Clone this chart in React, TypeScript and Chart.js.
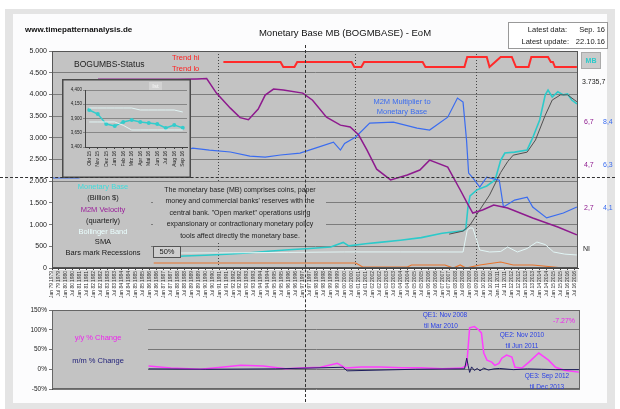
import React, { useEffect, useRef } from 'react';
import { Chart, registerables } from 'chart.js';

Chart.register(...registerables);

const FONT = '"Liberation Sans", Arial, sans-serif';
Chart.defaults.font.family = FONT;

const X_MIN = 1979;
const X_MAX = 2016.75;

// ---- Monetary base (billion $) ----
const mbYears = [1987.6, 1988.5, 1990, 1991.5, 1993, 1994.5, 1996, 1997.5, 1999, 1999.9, 2000.3, 2001.5, 2002.5, 2004, 2005.5, 2007, 2008.5, 2008.7, 2008.85, 2009.0, 2009.5, 2010.2, 2010.8, 2011.2, 2011.5, 2012.2, 2013.1, 2013.5, 2014.0, 2014.4, 2014.6, 2014.9, 2015.3, 2015.7, 2016.0, 2016.3, 2016.67];
const mbVals = [260, 276, 295, 318, 346, 385, 420, 450, 484, 590, 510, 560, 590, 640, 700, 800, 860, 900, 1400, 1660, 1800, 1890, 2030, 2480, 2650, 2670, 2720, 3000, 3410, 3990, 4100, 3940, 4060, 3990, 4010, 3870, 3780];

// ---- SMA ----
const smaYears = [2007.5, 2008.5, 2009.0, 2009.7, 2010.4, 2011.2, 2011.7, 2012.1, 2013.1, 2013.7, 2014.4, 2014.9, 2015.5, 2016.0, 2016.67];
const smaVals = [780, 850, 990, 1340, 1680, 2200, 2450, 2600, 2670, 2950, 3520, 3870, 3990, 3990, 3830];

// ---- Bollinger band width ----
const bbYears = [1988, 1992, 1996, 2000, 2004, 2008.5, 2008.8, 2009.0, 2009.2, 2009.7, 2010.4, 2011.2, 2011.7, 2012.4, 2013.1, 2013.8, 2014.4, 2015.0, 2015.8, 2016.67];
const bbVals = [345, 350, 360, 370, 370, 369, 875, 922, 922, 415, 369, 380, 484, 369, 450, 599, 540, 369, 320, 300];

// ---- Orange indicator ----
const orYears = [1986.3, 2000.8, 2001.3, 2004.5, 2004.8, 2007.2, 2007.8, 2008.3, 2008.7, 2009.7, 2011.2, 2012.1, 2013.5, 2015.0, 2015.7, 2016.67];
const orVals = [115, 115, 23, 23, 69, 69, 0, 69, 0, 69, 138, 69, 69, 23, 0, 0];

// ---- Trend hi / lo ----
const trYears = [1991.3, 1995.4, 1995.6, 1996.4, 1996.6, 2000.5, 2000.7, 2001.2, 2001.4, 2005.6, 2005.8, 2008.6, 2008.8, 2010.2, 2010.4, 2010.8, 2011.2, 2012.0, 2012.3, 2013.2, 2013.4, 2014.6, 2014.8, 2014.95, 2015.1, 2016.67];
const trVals = [4746, 4746, 4631, 4631, 4746, 4746, 4631, 4631, 4746, 4746, 4631, 4631, 4862, 4862, 4631, 4746, 4862, 4862, 4631, 4631, 4862, 4862, 4746, 4746, 4631, 4631];

// ---- M2M velocity (right scale) ----
const velYears = [1982.3, 1985, 1988, 1989.4, 1990.1, 1990.8, 1991.8, 1992.5, 1993.1, 1993.8, 1994.3, 1994.9, 1995.6, 1997.0, 1997.7, 1998.7, 1999.7, 2000.4, 2001.0, 2001.6, 2002.3, 2003.3, 2004.5, 2005.4, 2006.1, 2007.4, 2008.3, 2008.8, 2009.2, 2009.9, 2010.7, 2011.7, 2013.5, 2015.3, 2016.67];
const velVals = [8.68, 8.68, 8.68, 8.7, 8.72, 8.04, 7.34, 6.9, 6.8, 7.3, 7.95, 8.23, 8.18, 8.04, 7.71, 6.92, 6.55, 6.46, 6.1, 5.4, 4.5, 4.0, 4.23, 4.46, 4.92, 4.6, 3.53, 2.92, 2.46, 2.6, 2.83, 2.69, 2.23, 1.81, 1.44];

// ---- M2M multiplier (right scale) ----
const mulYears = [1979.0, 1980.9, 1984, 1987, 1989.1, 1990.3, 1991.8, 1993.2, 1994.3, 1995.4, 1996.8, 1997.9, 1999.2, 1999.7, 2000.0, 2000.8, 2001.8, 2003.5, 2005.2, 2006.1, 2007.4, 2008.1, 2008.5, 2008.75, 2008.9, 2009.2, 2009.7, 2010.2, 2011.1, 2011.4, 2012.2, 2013.1, 2013.5, 2014.5, 2015.7, 2016.67];
const mulVals = [4.09, 4.09, 4.6, 5.1, 5.48, 5.39, 5.3, 5.11, 5.06, 5.16, 5.25, 5.48, 5.76, 5.39, 5.7, 6.0, 6.64, 6.69, 6.41, 6.32, 6.92, 7.81, 7.62, 5.85, 4.32, 4.09, 3.67, 4.13, 3.99, 2.74, 3.06, 3.2, 2.74, 2.23, 2.46, 2.74];

const rightTickVals = [2.7, 4.7, 6.7];
const mulTickLabels = ['4,1', '6,3', '8,4'];
const recessionYears = [1990.9, 2000.75, 2009.4];

// ---- lower chart: % change ----
const yyYears = [1985.9, 1987.5, 1989.6, 1991.1, 1992.5, 1994.1, 1995.7, 1996.8, 1998.2, 1999.4, 2000.0, 2001.1, 2002.5, 2004.0, 2005.4, 2006.9, 2008.3, 2008.65, 2008.86, 2009.2, 2009.5, 2009.7, 2009.87, 2010.1, 2010.44, 2010.66, 2010.95, 2011.16, 2011.5, 2011.88, 2012.1, 2012.6, 2013.1, 2013.8, 2014.5, 2015.0, 2015.7, 2016.67];
const yyVals = [8, 3, 0, 5, 10, 8, 1, 3, 5, 15, 3, 6, 6, 4, 4, 1, 3, 10, 105, 108, 100, 92, 41, 23, 18, 10, 15, 28, 36, 31, 5, 3, 18, 41, 23, 5, -3, -7.27];
const mmYears = [1985.9, 1990, 1995, 1999.8, 2000.1, 2005, 2008.5, 2008.65, 2008.75, 2008.86, 2009.0, 2009.2, 2009.4, 2009.6, 2009.87, 2010.2, 2010.6, 2011, 2012, 2013, 2014, 2015, 2016.67];
const mmVals = [1, 0, 1, 5, -4, 0, 1, 28, 10, -8, 6, -3, 2, -4, 3, -2, 1, 2, -1, 1, 0, -1, -1];

// ---- inset: last 12 months ----
const insetLabels = ['Okt 15', 'Nov 15', 'Dez 15', 'Jan 16', 'Feb 16', 'Mrz 16', 'Apr 16', 'Mai 16', 'Jun 16', 'Jul 16', 'Aug 16', 'Sep 16'];
const insetVals = [4049, 3979, 3804, 3768, 3839, 3874, 3839, 3821, 3804, 3733, 3786, 3736];
const insetUpper = [4084, 4084, 4084, 4084, 4084, 4084, 4049, 4049, 4049, 4049, 4049, 4014];
const insetLower = [3839, 3839, 3839, 3839, 3780, 3698, 3698, 3698, 3698, 3698, 3698, 3698];

// ---- x tick labels (half-yearly) ----
const tickYears: number[] = [];
for (let y = 1979; y <= 2016.5; y += 0.5) tickYears.push(y);
const tickMonths = ['Jan', 'Jul'];

const legendLines: [string, string][] = [
  ['Monetary Base', '#3edcdc'],
  ['(Billion $)', '#1a1a1a'],
  ['M2M Velocity', '#9a1f9a'],
  ['(quarterly)', '#1a1a1a'],
  ['Bollinger Band', '#eaffff'],
  ['SMA', '#1a1a1a'],
  ['Bars mark Recessions', '#1a1a1a'],
];
const descLines = [
  'The monetary base (MB) comprises coins, paper',
  "money and commercial banks' reserves with the",
  'central bank. "Open market" operations using',
  'expansionary or contractionary monetary policy',
  'tools affect directly the monetary base.',
];

const xy = (xs: number[], ys: number[]) => xs.map((x, i) => ({ x, y: ys[i] }));

function txt(ctx: CanvasRenderingContext2D, s: string, x: number, y: number, color = '#1a1a1a', size = 7, align: CanvasTextAlign = 'left', weight = 'normal') {
  ctx.font = `${weight} ${size}px ${FONT}`;
  ctx.fillStyle = color;
  ctx.textAlign = align;
  ctx.textBaseline = 'middle';
  ctx.fillText(s, x, y);
}

const PLOT_BG = '#c3c3c3';

const fmtDot = (v: number) => {
  if (v >= 1000) return `${Math.floor(v / 1000)}.${String(v % 1000).padStart(3, '0')}`;
  return String(v);
};

const mainPlugin = {
  id: 'mainDecor',
  beforeDraw(chart: any) {
    const { ctx, chartArea: a } = chart;
    ctx.save();
    ctx.fillStyle = PLOT_BG;
    ctx.fillRect(a.left, a.top, a.right - a.left, a.bottom - a.top);
    ctx.fillStyle = '#d9d9d9';
    ctx.fillRect(a.left, a.bottom + 2, a.right - a.left, 12);
    ctx.restore();
  },
  beforeDatasetsDraw(chart: any) {
    const { ctx, chartArea: a } = chart;
    const xs = chart.scales.x;
    ctx.save();
    ctx.strokeStyle = '#444';
    ctx.lineWidth = 1;
    ctx.setLineDash([1, 2]);
    recessionYears.forEach((r) => {
      const px = Math.round(xs.getPixelForValue(r)) + 0.5;
      ctx.beginPath();
      ctx.moveTo(px, a.top);
      ctx.lineTo(px, a.bottom);
      ctx.stroke();
    });
    ctx.setLineDash([]);
    ctx.fillStyle = PLOT_BG;
    ctx.fillRect(a.left + 1, 183, 98, 76);
    ctx.fillRect(153, 183, 173, 60);
    ctx.restore();
  },
  afterDraw(chart: any) {
    const { ctx, chartArea: a } = chart;
    ctx.save();
    ctx.strokeStyle = '#555';
    ctx.lineWidth = 1;
    ctx.strokeRect(a.left + 0.5, a.top + 0.5, a.right - a.left - 1, a.bottom - a.top - 1);

    txt(ctx, 'www.timepatternanalysis.de', 25, 30, '#111', 8, 'left', 'bold');
    txt(ctx, 'Monetary Base MB (BOGMBASE) - EoM', 345, 33, '#111', 9.5, 'center');

    ctx.fillStyle = '#ffffff';
    ctx.fillRect(508.5, 22.5, 99, 26);
    ctx.strokeStyle = '#999';
    ctx.strokeRect(508.5, 22.5, 99, 26);
    txt(ctx, 'Latest data:', 567, 30, '#222', 7.5, 'right');
    txt(ctx, 'Sep. 16', 605, 30, '#222', 7.5, 'right');
    txt(ctx, 'Latest update:', 569, 42, '#222', 7.5, 'right');
    txt(ctx, '22.10.16', 605, 42, '#222', 7.5, 'right');

    txt(ctx, 'BOGUMBS-Status', 74, 65, '#222', 8.5);
    txt(ctx, 'Trend hi', 172, 58, '#ff2020', 7.5);
    txt(ctx, 'Trend lo', 172, 69, '#ff2020', 7.5);

    const ly = [187, 198, 210, 221, 232, 242, 253];
    legendLines.forEach(([s, c], i) => txt(ctx, s, 103, ly[i], c, 7.5, 'center'));
    const dy = [190, 201, 213, 224, 236];
    descLines.forEach((s, i) => txt(ctx, s, 240, dy[i], '#222', 7, 'center'));

    ctx.fillStyle = '#cfcfcf';
    ctx.fillRect(153.5, 246.5, 27, 11);
    ctx.strokeStyle = '#555';
    ctx.strokeRect(153.5, 246.5, 27, 11);
    txt(ctx, '50%', 167, 252, '#222', 7.5, 'center');

    txt(ctx, 'M2M Multiplier to', 402, 102, '#3a6cf0', 7.5, 'center');
    txt(ctx, 'Monetary Base', 402, 112, '#3a6cf0', 7.5, 'center');

    txt(ctx, '3.735,7', 582, 82, '#222', 7);
    txt(ctx, 'NI', 583, 249, '#222', 7);
    ctx.fillStyle = '#cbcbcb';
    ctx.fillRect(581.5, 52.5, 19, 16);
    ctx.strokeStyle = '#aaa';
    ctx.strokeRect(581.5, 52.5, 19, 16);
    txt(ctx, 'MB', 591, 61, '#2ccaca', 7, 'center', 'bold');
    ctx.restore();
  },
};

const lowerPlugin = {
  id: 'lowerDecor',
  beforeDraw(chart: any) {
    const { ctx, chartArea: a } = chart;
    ctx.save();
    ctx.fillStyle = PLOT_BG;
    ctx.fillRect(a.left, a.top, a.right - a.left, a.bottom - a.top);
    ctx.restore();
  },
  beforeDatasetsDraw(chart: any) {
    const { ctx, chartArea: a } = chart;
    ctx.save();
    ctx.fillStyle = PLOT_BG;
    ctx.fillRect(a.left + 1, a.top + 1, 95, a.bottom - a.top - 2);
    ctx.restore();
  },
  afterDraw(chart: any) {
    const { ctx, chartArea: a } = chart;
    ctx.save();
    ctx.strokeStyle = '#666';
    ctx.lineWidth = 1;
    ctx.strokeRect(a.left + 0.5, a.top + 0.5, a.right - a.left - 1, a.bottom - a.top - 1);
    txt(ctx, 'y/y % Change', 98, 38, '#ee22ee', 7.5, 'center');
    txt(ctx, 'm/m % Change', 98, 61, '#22227a', 7.5, 'center');
    const qc = '#2a40e6';
    txt(ctx, 'QE1: Nov 2008', 445, 15, qc, 6.5, 'center');
    txt(ctx, 'til Mar 2010', 441, 26, qc, 6.5, 'center');
    txt(ctx, 'QE2: Nov 2010', 522, 35, qc, 6.5, 'center');
    txt(ctx, 'til Jun 2011', 522, 46, qc, 6.5, 'center');
    txt(ctx, 'QE3: Sep 2012', 547, 76, qc, 6.5, 'center');
    txt(ctx, 'til Dec 2013', 547, 87, qc, 6.5, 'center');
    txt(ctx, '-7.27%', 564, 21, '#ee22ee', 7, 'center');
    ctx.restore();
  },
};

const insetPlugin = {
  id: 'insetDecor',
  beforeDraw(chart: any) {
    const { ctx, width, height } = chart;
    ctx.save();
    ctx.fillStyle = PLOT_BG;
    ctx.fillRect(0, 0, width, height);
    ctx.restore();
  },
  afterDraw(chart: any) {
    const { ctx, width, height } = chart;
    ctx.save();
    ctx.strokeStyle = '#4a4a4a';
    ctx.lineWidth = 1.5;
    ctx.strokeRect(0.75, 0.75, width - 1.5, height - 1.5);
    ctx.fillStyle = '#d2d2d2';
    ctx.fillRect(87, 3, 13, 8);
    txt(ctx, 'Ist', 93.5, 7, '#f6f6f6', 6, 'center');
    ctx.restore();
  },
};

export default function App() {
  const mainRef = useRef<HTMLCanvasElement>(null);
  const lowRef = useRef<HTMLCanvasElement>(null);
  const insetRef = useRef<HTMLCanvasElement>(null);

  useEffect(() => {
    const charts: Chart[] = [];
    const line = (data: any, color: string, width: number, extra: any = {}) => ({
      data,
      borderColor: color,
      borderWidth: width,
      pointRadius: 0,
      tension: 0,
      fill: false,
      xAxisID: 'x',
      ...extra,
    });

    charts.push(
      new Chart(mainRef.current as HTMLCanvasElement, {
        type: 'line',
        data: {
          datasets: [
            line(xy(trYears, trVals), '#ff2a2a', 2, { yAxisID: 'y' }),
            line(xy(orYears, orVals), '#e8742c', 1.2, { yAxisID: 'y' }),
            line(xy(bbYears, bbVals), '#e2f6f6', 1, { yAxisID: 'y' }),
            line(xy(velYears, velVals), '#8e1a8e', 1.5, { yAxisID: 'yV' }),
            line(xy(mulYears, mulVals), '#3a6cf0', 1.2, { yAxisID: 'yB' }),
            line(xy(smaYears, smaVals), '#505050', 1, { yAxisID: 'y' }),
            line(xy(mbYears, mbVals), '#2ccaca', 1.6, { yAxisID: 'y' }),
          ] as any,
        },
        options: {
          responsive: false,
          animation: false,
          events: [],
          plugins: { legend: { display: false }, tooltip: { enabled: false } },
          layout: { padding: { left: 0, right: 0, top: 51, bottom: 0 } },
          scales: {
            x: {
              type: 'linear', position: 'bottom', min: X_MIN, max: X_MAX, weight: 0,
              afterFit: (s: any) => { s.height = 14; },
              afterBuildTicks: (s: any) => { s.ticks = tickYears.map((v) => ({ value: v })); },
              ticks: {
                autoSkip: false, minRotation: 90, maxRotation: 90, padding: 1, color: '#333',
                font: { size: 5 },
                callback: (v: any) => String(Math.floor(v)),
              },
              grid: { drawOnChartArea: false, tickLength: 2, color: '#444' },
              border: { color: '#444' },
            },
            x2: {
              type: 'linear', position: 'bottom', min: X_MIN, max: X_MAX, weight: 1,
              afterFit: (s: any) => { s.height = 18; },
              afterBuildTicks: (s: any) => { s.ticks = tickYears.map((v) => ({ value: v })); },
              ticks: {
                autoSkip: false, minRotation: 90, maxRotation: 90, padding: 1, color: '#333',
                font: { size: 5 },
                callback: (v: any) => {
                  const yr = Math.floor(v);
                  const m = v - yr >= 0.25 ? tickMonths[1] : tickMonths[0];
                  return `${m} ${String(yr).slice(2)}`;
                },
              },
              grid: { display: false, drawTicks: false },
              border: { display: false },
            },
            y: {
              position: 'left', min: 0, max: 5000,
              afterFit: (s: any) => { s.width = 52; },
              ticks: { stepSize: 500, color: '#222', font: { size: 7 }, padding: 2, callback: (v: any) => fmtDot(v) },
              grid: { color: '#7c7c7c', tickLength: 3 },
              border: { color: '#444' },
            },
            yV: {
              position: 'right', min: -0.1, max: 10, weight: 0,
              afterFit: (s: any) => { s.width = 20; },
              afterBuildTicks: (s: any) => { s.ticks = rightTickVals.map((v) => ({ value: v })); },
              ticks: { color: '#8e1a8e', font: { size: 7 }, padding: 6, callback: (v: any) => Number(v).toFixed(1).replace('.', ',') },
              grid: { display: false, drawTicks: false },
              border: { display: false },
            },
            yB: {
              position: 'right', min: -0.1, max: 10, weight: 1,
              afterFit: (s: any) => { s.width = 22; },
              afterBuildTicks: (s: any) => { s.ticks = rightTickVals.map((v) => ({ value: v })); },
              ticks: { color: '#3a6cf0', font: { size: 7 }, padding: 5, callback: (_v: any, i: number) => mulTickLabels[i] },
              grid: { display: false, drawTicks: false },
              border: { display: false },
            },
          } as any,
        },
        plugins: [mainPlugin],
      })
    );

    charts.push(
      new Chart(lowRef.current as HTMLCanvasElement, {
        type: 'line',
        data: {
          datasets: [
            line(xy(mmYears, mmVals), '#1c1c5c', 1),
            line(xy(yyYears, yyVals), '#ff3cff', 1.5),
          ] as any,
        },
        options: {
          responsive: false,
          animation: false,
          events: [],
          plugins: { legend: { display: false }, tooltip: { enabled: false } },
          layout: { padding: { left: 0, right: 40, top: 10, bottom: 20 } },
          scales: {
            x: { type: 'linear', min: X_MIN, max: X_MAX, display: false },
            y: {
              min: -50, max: 150,
              afterFit: (s: any) => { s.width = 52; },
              ticks: { stepSize: 50, color: '#222', font: { size: 6.5 }, padding: 2, callback: (v: any) => `${v}%` },
              grid: { color: '#777', tickLength: 3 },
              border: { color: '#444' },
            },
          } as any,
        },
        plugins: [lowerPlugin],
      })
    );

    charts.push(
      new Chart(insetRef.current as HTMLCanvasElement, {
        type: 'line',
        data: {
          labels: insetLabels,
          datasets: [
            { data: insetUpper, borderColor: '#e0f4f4', borderWidth: 1, pointRadius: 0 },
            { data: insetLower, borderColor: '#e0f4f4', borderWidth: 1, pointRadius: 0 },
            { data: insetVals, borderColor: '#33cccc', borderWidth: 1.5, pointRadius: 2, pointBackgroundColor: '#33cccc', pointBorderWidth: 0 },
          ],
        },
        options: {
          responsive: false,
          animation: false,
          events: [],
          plugins: { legend: { display: false }, tooltip: { enabled: false } },
          layout: { padding: { left: 0, right: 4, top: 11, bottom: 0 } },
          scales: {
            x: {
              type: 'category', offset: true,
              afterFit: (s: any) => { s.height = 31; },
              ticks: { autoSkip: false, minRotation: 90, maxRotation: 90, padding: 2, color: '#222', font: { size: 5 } },
              grid: { drawOnChartArea: false, tickLength: 2, color: '#444' },
              border: { color: '#444' },
            },
            y: {
              min: 3400, max: 4400,
              afterFit: (s: any) => { s.width = 23; },
              ticks: { stepSize: 250, color: '#222', font: { size: 4.5 }, padding: 1, callback: (v: any) => Number(v).toLocaleString('en-US') },
              grid: { color: '#878787', tickLength: 2 },
              border: { color: '#444' },
            },
          } as any,
        },
        plugins: [insetPlugin],
      })
    );

    return () => charts.forEach((c) => c.destroy());
  }, []);

  return (
    <div style={{ position: 'absolute', left: 0, top: 0, width: 620, height: 409, background: '#ffffff', overflow: 'hidden' }}>
      <div style={{ position: 'absolute', left: 5, top: 9, width: 610, height: 400, background: '#e4e4e4' }} />
      <div style={{ position: 'absolute', left: 13, top: 14, width: 594, height: 389, background: '#fcfcfd' }} />
      <canvas ref={mainRef} width={620} height={300} style={{ position: 'absolute', left: 0, top: 0 }} />
      <canvas ref={lowRef} width={620} height={109} style={{ position: 'absolute', left: 0, top: 300 }} />
      <canvas ref={insetRef} width={129} height={99} style={{ position: 'absolute', left: 62, top: 79 }} />
      <div style={{ position: 'absolute', left: 305, top: 45, width: 0, height: 357, borderLeft: '1px dashed #333' }} />
      <div style={{ position: 'absolute', left: 0, top: 177, width: 615, height: 0, borderTop: '1px dashed #333' }} />
    </div>
  );
}
